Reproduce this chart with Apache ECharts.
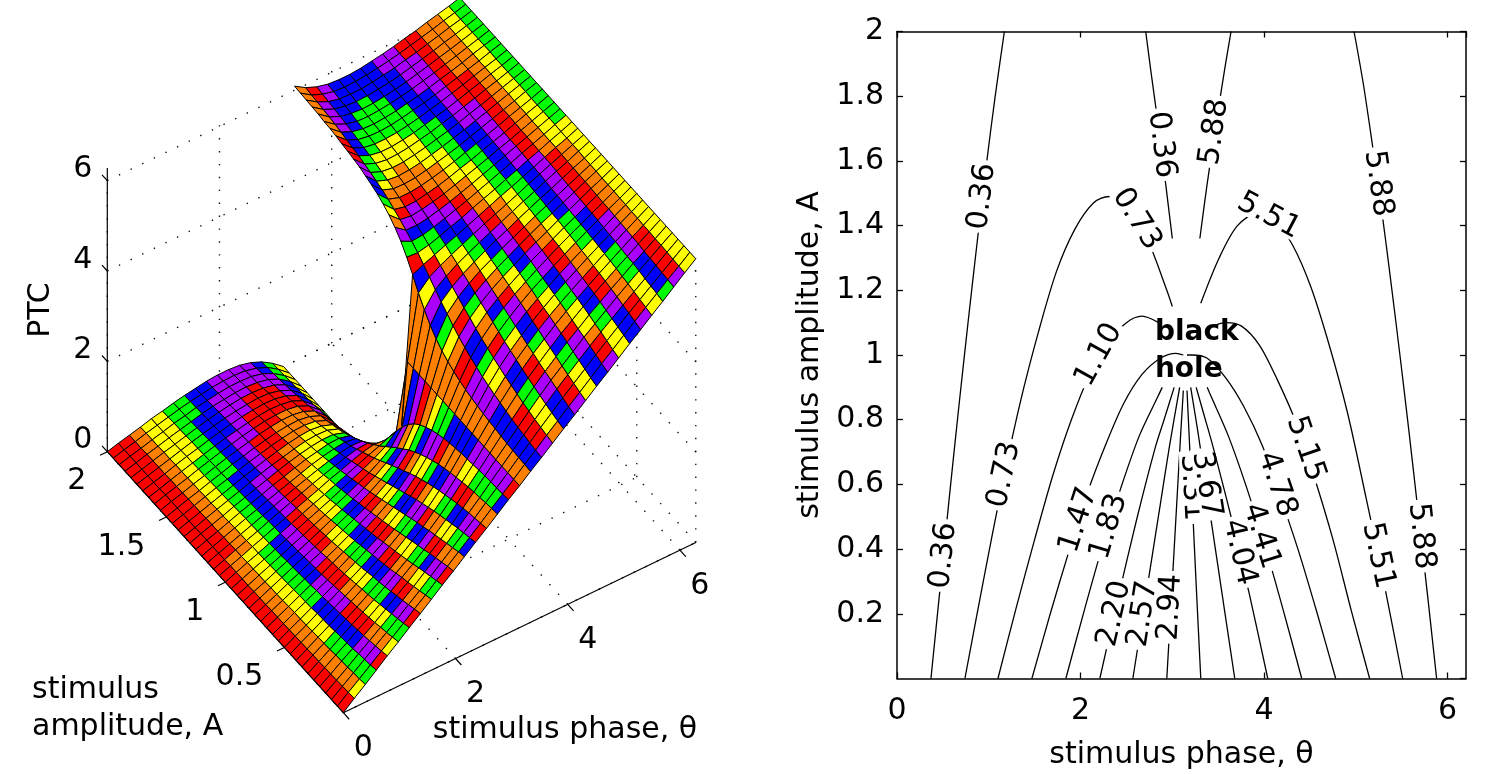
<!DOCTYPE html>
<html>
<head>
<meta charset="utf-8">
<title>PTC surface and contours</title>
<script src="https://cdn.jsdelivr.net/npm/echarts@6.0.0/dist/echarts.min.js"></script>
<style>
html, body { margin: 0; padding: 0; background: #fff; }
#main { width: 1496px; height: 774px; }
</style>
</head>
<body>
<div id="main"></div>
<script>
// ---- surface samples: stimulus phase (columns) x stimulus amplitude (rows) ----
var phaseGrid = [0, 0.196, 0.393, 0.589, 0.785, 0.982, 1.178, 1.374, 1.571, 1.767, 1.963, 2.160, 2.356,
  2.553, 2.749, 2.945, 3.142, 3.338, 3.534, 3.731, 3.927, 4.123, 4.320, 4.516, 4.712, 4.909, 5.105,
  5.301, 5.498, 5.694, 5.890, 6.087, 6.283];
var ampGrid = [0, 0.05, 0.1, 0.15, 0.2, 0.25, 0.3, 0.35, 0.4, 0.45, 0.5, 0.55, 0.6, 0.65, 0.7, 0.75,
  0.8, 0.85, 0.9, 0.95, 1.0, 1.05, 1.1, 1.15, 1.2, 1.25, 1.3, 1.35, 1.4, 1.45, 1.5, 1.55, 1.6, 1.65,
  1.7, 1.75, 1.8, 1.85, 1.9, 1.95, 2.0];
// new phase (PTC) read for every row of ampGrid
var ptcRows = [
  [0,0.20,0.39,0.59,0.79,0.98,1.18,1.37,1.57,1.77,1.96,2.16,2.36,2.55,2.75,2.95,3.14,3.34,3.53,3.73,3.93,4.12,4.32,4.52,4.71,4.91,5.11,5.30,5.50,5.69,5.89,6.09,6.28],
  [0,0.19,0.37,0.56,0.75,0.94,1.13,1.33,1.52,1.72,1.92,2.12,2.32,2.52,2.73,2.93,3.14,3.35,3.55,3.76,3.96,4.16,4.36,4.56,4.76,4.95,5.15,5.34,5.53,5.72,5.91,6.09,6.28],
  [0,0.18,0.36,0.54,0.72,0.90,1.09,1.28,1.47,1.67,1.87,2.07,2.28,2.49,2.71,2.92,3.14,3.36,3.57,3.79,4.00,4.21,4.41,4.61,4.81,5.00,5.19,5.38,5.56,5.74,5.92,6.10,6.28],
  [0,0.17,0.34,0.52,0.69,0.87,1.05,1.23,1.42,1.62,1.82,2.02,2.24,2.46,2.68,2.91,3.14,3.37,3.60,3.82,4.04,4.26,4.46,4.66,4.86,5.05,5.23,5.41,5.59,5.76,5.94,6.11,6.28],
  [0,0.16,0.33,0.49,0.66,0.83,1.01,1.19,1.37,1.57,1.77,1.97,2.19,2.42,2.66,2.90,3.14,3.38,3.62,3.86,4.09,4.31,4.51,4.71,4.91,5.09,5.27,5.45,5.62,5.79,5.95,6.12,6.28],
  [0,0.16,0.32,0.47,0.64,0.80,0.97,1.14,1.33,1.51,1.71,1.92,2.14,2.38,2.63,2.88,3.14,3.40,3.65,3.90,4.14,4.36,4.57,4.77,4.95,5.14,5.31,5.48,5.64,5.81,5.96,6.12,6.28],
  [0,0.15,0.30,0.46,0.61,0.77,0.93,1.10,1.28,1.46,1.66,1.87,2.09,2.33,2.59,2.86,3.14,3.42,3.69,3.95,4.19,4.41,4.62,4.82,5.00,5.18,5.35,5.51,5.67,5.82,5.98,6.13,6.28],
  [0,0.15,0.29,0.44,0.59,0.74,0.90,1.06,1.23,1.41,1.61,1.81,2.04,2.28,2.55,2.84,3.14,3.44,3.73,4.00,4.24,4.47,4.67,4.87,5.05,5.22,5.38,5.54,5.69,5.84,5.99,6.13,6.28],
  [0,0.14,0.28,0.42,0.57,0.72,0.87,1.03,1.19,1.36,1.55,1.76,1.98,2.23,2.51,2.82,3.14,3.46,3.77,4.05,4.30,4.52,4.73,4.92,5.09,5.25,5.41,5.56,5.71,5.86,6.00,6.14,6.28],
  [0,0.14,0.27,0.41,0.55,0.69,0.84,0.99,1.15,1.32,1.50,1.70,1.92,2.17,2.46,2.79,3.14,3.49,3.82,4.11,4.36,4.58,4.78,4.96,5.13,5.29,5.44,5.59,5.73,5.87,6.01,6.14,6.28],
  [0,0.13,0.26,0.40,0.53,0.67,0.81,0.95,1.11,1.27,1.44,1.64,1.86,2.11,2.41,2.76,3.14,3.52,3.87,4.17,4.42,4.64,4.84,5.01,5.17,5.33,5.47,5.61,5.75,5.88,6.02,6.15,6.28],
  [0,0.13,0.25,0.38,0.51,0.64,0.78,0.92,1.07,1.22,1.39,1.58,1.79,2.04,2.34,2.72,3.14,3.56,3.94,4.24,4.49,4.70,4.89,5.06,5.21,5.36,5.50,5.64,5.77,5.90,6.03,6.15,6.28],
  [0,0.12,0.25,0.37,0.50,0.62,0.75,0.89,1.03,1.18,1.34,1.52,1.72,1.97,2.27,2.67,3.14,3.61,4.01,4.31,4.56,4.76,4.94,5.10,5.25,5.39,5.53,5.66,5.78,5.91,6.03,6.16,6.28],
  [0,0.12,0.24,0.36,0.48,0.60,0.73,0.86,0.99,1.14,1.29,1.46,1.65,1.89,2.19,2.61,3.14,3.67,4.09,4.39,4.63,4.82,4.99,5.14,5.29,5.42,5.55,5.68,5.80,5.92,6.04,6.16,6.28],
  [0,0.12,0.23,0.35,0.47,0.58,0.71,0.83,0.96,1.10,1.24,1.40,1.58,1.80,2.10,2.53,3.14,3.75,4.18,4.48,4.70,4.88,5.04,5.18,5.32,5.45,5.57,5.70,5.81,5.93,6.05,6.16,6.28],
  [0,0.11,0.22,0.34,0.45,0.57,0.68,0.80,0.93,1.06,1.19,1.34,1.51,1.72,2.00,2.44,3.14,3.84,4.28,4.56,4.77,4.94,5.09,5.22,5.35,5.48,5.60,5.71,5.83,5.94,6.06,6.17,6.28],
  [0,0.11,0.22,0.33,0.44,0.55,0.66,0.78,0.90,1.02,1.15,1.28,1.44,1.63,1.88,2.32,3.14,3.96,4.40,4.65,4.84,5.00,5.13,5.26,5.38,5.50,5.62,5.73,5.84,5.95,6.06,6.17,6.28],
  [0,0.11,0.21,0.32,0.43,0.53,0.64,0.75,0.87,0.98,1.10,1.23,1.37,1.54,1.76,2.16,3.14,4.12,4.52,4.74,4.91,5.05,5.18,5.30,5.41,5.53,5.64,5.75,5.85,5.96,6.07,6.17,6.28],
  [0,0.10,0.21,0.31,0.41,0.52,0.62,0.73,0.84,0.95,1.06,1.18,1.30,1.45,1.63,1.96,3.14,4.32,4.65,4.83,4.98,5.10,5.22,5.33,5.44,5.55,5.66,5.76,5.87,5.97,6.07,6.18,6.28],
  [0,0.10,0.20,0.30,0.40,0.50,0.61,0.71,0.81,0.91,1.02,1.13,1.24,1.36,1.50,1.73,3.14,4.55,4.78,4.92,5.04,5.15,5.26,5.37,5.47,5.57,5.67,5.78,5.88,5.98,6.08,6.18,6.28],
  [0,0.10,0.20,0.29,0.39,0.49,0.59,0.69,0.79,0.88,0.98,1.08,1.18,1.28,1.37,1.47,1.57,4.81,4.91,5.01,5.11,5.20,5.30,5.40,5.50,5.60,5.69,5.79,5.89,5.99,6.09,6.18,6.28],
  [0,0.10,0.19,0.29,0.38,0.48,0.57,0.67,0.76,0.85,0.95,1.03,1.12,1.20,1.25,1.23,0,5.05,5.03,5.08,5.16,5.25,5.33,5.43,5.52,5.61,5.71,5.80,5.90,5.99,6.09,6.18,6.28],
  [0,0.09,0.19,0.28,0.37,0.47,0.56,0.65,0.74,0.83,0.91,0.99,1.06,1.12,1.14,1.02,0,5.26,5.14,5.16,5.22,5.29,5.37,5.45,5.54,5.63,5.72,5.81,5.91,6.00,6.09,6.19,6.28],
  [0,0.09,0.18,0.27,0.36,0.45,0.54,0.63,0.72,0.80,0.88,0.95,1.01,1.05,1.04,0.86,0,5.42,5.24,5.23,5.27,5.33,5.40,5.48,5.56,5.65,5.74,5.83,5.92,6.01,6.10,6.19,6.28],
  [0,0.09,0.18,0.27,0.36,0.44,0.53,0.61,0.69,0.77,0.85,0.91,0.96,0.99,0.95,0.73,0,5.55,5.33,5.29,5.32,5.37,5.43,5.51,5.59,5.67,5.75,5.84,5.92,6.01,6.10,6.19,6.28],
  [0,0.09,0.17,0.26,0.35,0.43,0.51,0.60,0.67,0.75,0.82,0.87,0.92,0.93,0.87,0.63,0,5.65,5.41,5.35,5.36,5.41,5.46,5.53,5.61,5.68,5.77,5.85,5.93,6.02,6.11,6.19,6.28],
  [0,0.09,0.17,0.25,0.34,0.42,0.50,0.58,0.66,0.73,0.79,0.84,0.87,0.87,0.79,0.55,0,5.73,5.49,5.41,5.41,5.44,5.49,5.55,5.62,5.70,5.78,5.86,5.94,6.03,6.11,6.19,6.28],
  [0,0.08,0.17,0.25,0.33,0.41,0.49,0.57,0.64,0.70,0.76,0.81,0.83,0.82,0.73,0.49,0,5.79,5.55,5.46,5.45,5.47,5.52,5.58,5.64,5.71,5.79,5.87,5.95,6.03,6.11,6.20,6.28],
  [0,0.08,0.16,0.24,0.32,0.40,0.48,0.55,0.62,0.68,0.74,0.78,0.80,0.77,0.68,0.44,0,5.84,5.60,5.51,5.48,5.50,5.54,5.60,5.66,5.73,5.80,5.88,5.96,6.04,6.12,6.20,6.28],
  [0,0.08,0.16,0.24,0.32,0.39,0.47,0.54,0.60,0.66,0.71,0.75,0.76,0.73,0.63,0.39,0,5.89,5.65,5.55,5.52,5.53,5.57,5.62,5.68,5.74,5.81,5.89,5.96,6.04,6.12,6.20,6.28],
  [0,0.08,0.16,0.23,0.31,0.38,0.46,0.52,0.59,0.64,0.69,0.72,0.73,0.69,0.59,0.36,0,5.92,5.69,5.59,5.55,5.56,5.59,5.64,5.69,5.76,5.82,5.90,5.97,6.05,6.12,6.20,6.28],
  [0,0.08,0.15,0.23,0.30,0.38,0.45,0.51,0.57,0.63,0.67,0.70,0.70,0.66,0.55,0.33,0,5.95,5.73,5.62,5.58,5.58,5.61,5.65,5.71,5.77,5.83,5.90,5.98,6.05,6.13,6.20,6.28],
  [0,0.08,0.15,0.22,0.30,0.37,0.44,0.50,0.56,0.61,0.65,0.67,0.67,0.63,0.52,0.31,0,5.97,5.76,5.65,5.61,5.61,5.63,5.67,5.72,5.78,5.84,5.91,5.98,6.06,6.13,6.20,6.28],
  [0,0.07,0.15,0.22,0.29,0.36,0.43,0.49,0.54,0.59,0.63,0.65,0.64,0.60,0.49,0.28,0,6.00,5.79,5.68,5.64,5.63,5.65,5.69,5.74,5.79,5.85,5.92,5.99,6.06,6.13,6.21,6.28],
  [0,0.07,0.14,0.22,0.29,0.35,0.42,0.48,0.53,0.58,0.61,0.63,0.62,0.57,0.46,0.26,0,6.02,5.82,5.71,5.66,5.65,5.67,5.70,5.75,5.80,5.86,5.93,5.99,6.06,6.14,6.21,6.28],
  [0,0.07,0.14,0.21,0.28,0.35,0.41,0.47,0.52,0.56,0.59,0.61,0.60,0.54,0.43,0.25,0,6.03,5.85,5.74,5.68,5.67,5.69,5.72,5.76,5.81,5.87,5.93,6.00,6.07,6.14,6.21,6.28],
  [0,0.07,0.14,0.21,0.27,0.34,0.40,0.46,0.51,0.55,0.58,0.59,0.57,0.52,0.41,0.23,0,6.05,5.87,5.76,5.71,5.69,5.70,5.73,5.77,5.82,5.88,5.94,6.01,6.07,6.14,6.21,6.28],
  [0,0.07,0.14,0.20,0.27,0.33,0.39,0.45,0.50,0.53,0.56,0.57,0.55,0.50,0.39,0.22,0,6.06,5.89,5.78,5.73,5.71,5.72,5.75,5.78,5.83,5.89,5.95,6.01,6.08,6.14,6.21,6.28],
  [0,0.07,0.13,0.20,0.26,0.33,0.38,0.44,0.48,0.52,0.55,0.55,0.54,0.48,0.37,0.21,0,6.07,5.91,5.80,5.74,5.73,5.73,5.76,5.80,5.84,5.90,5.95,6.02,6.08,6.15,6.21,6.28],
  [0,0.07,0.13,0.20,0.26,0.32,0.38,0.43,0.47,0.51,0.53,0.54,0.52,0.46,0.36,0.20,0,6.08,5.92,5.82,5.76,5.74,5.75,5.77,5.81,5.85,5.90,5.96,6.02,6.08,6.15,6.21,6.28],
  [0,0.07,0.13,0.19,0.26,0.31,0.37,0.42,0.46,0.50,0.52,0.52,0.50,0.44,0.34,0.19,0,6.09,5.94,5.84,5.78,5.76,5.76,5.78,5.82,5.86,5.91,5.97,6.02,6.09,6.15,6.21,6.28]
];

// ---- 3D axes ticks ----
var phaseTicks = [0, 2, 4, 6];
var ampTicks = [0.5, 1, 1.5, 2];
var ptcTicks = [0, 2, 4, 6];

// ---- contour lines [phase, amplitude] ----
var lvl036a = [[0.37,0],[0.47,0.28],[0.57,0.56],[0.67,0.83],[0.77,1.09],[0.87,1.34],[0.97,1.58],[1.07,1.80],[1.17,2.0]];
var lvl036b = [[2.71,2.0],[2.77,1.87],[2.87,1.66],[2.97,1.43],[3.0,1.36]];
var lvl073 = [[0.74,0],[0.94,0.30],[1.14,0.59],[1.34,0.85],[1.54,1.07],[1.74,1.26],[1.94,1.39],[2.14,1.47],[2.31,1.49],[2.44,1.48],[2.54,1.45],[2.74,1.35],[2.94,1.20],[3.0,1.15]];
var lvl110 = [[1.10,0],[1.30,0.22],[1.50,0.43],[1.70,0.63],[1.90,0.80],[2.10,0.94],[2.30,1.04],[2.50,1.10],[2.67,1.12],[2.85,1.10]];
var lvl147 = [[1.47,0],[1.67,0.20],[1.87,0.39],[2.07,0.57],[2.27,0.72],[2.47,0.85],[2.67,0.94],[2.87,0.99],[3.04,1.005],[3.12,1.0]];
var lvl183 = [[1.84,0],[2.04,0.21],[2.24,0.41],[2.44,0.59],[2.64,0.75],[2.84,0.87],[2.89,0.90]];
var lvl220 = [[2.21,0],[2.41,0.25],[2.61,0.49],[2.81,0.71],[2.91,0.80],[3.02,0.90]];
var lvl257 = [[2.57,0],[2.67,0.18],[2.77,0.36],[2.87,0.54],[2.97,0.72],[3.08,0.90]];
var lvl294 = [[2.94,0],[2.99,0.25],[3.04,0.50],[3.09,0.75],[3.12,0.89]];
var lvl331 = [[3.31,0],[3.26,0.29],[3.21,0.59],[3.17,0.83],[3.16,0.89]];
var lvl367 = [[3.68,0],[3.58,0.19],[3.48,0.38],[3.38,0.57],[3.28,0.76],[3.20,0.90]];
var lvl404 = [[4.04,0],[3.84,0.26],[3.64,0.50],[3.44,0.72],[3.34,0.82],[3.26,0.90]];
var lvl441 = [[4.41,0],[4.21,0.21],[4.01,0.41],[3.81,0.59],[3.61,0.75],[3.41,0.88],[3.38,0.90]];
var lvl478 = [[4.78,0],[4.58,0.20],[4.38,0.39],[4.18,0.56],[3.98,0.72],[3.78,0.84],[3.58,0.93],[3.38,0.99],[3.21,1.0],[3.16,1.0]];
var lvl515 = [[5.15,0],[4.95,0.21],[4.75,0.43],[4.55,0.62],[4.35,0.79],[4.15,0.92],[3.95,1.03],[3.75,1.09],[3.58,1.10],[3.45,1.09]];
var lvl551 = [[5.51,0],[5.31,0.29],[5.11,0.56],[4.91,0.82],[4.71,1.03],[4.51,1.21],[4.31,1.34],[4.11,1.42],[3.94,1.44],[3.71,1.40],[3.51,1.30],[3.31,1.16]];
var lvl588a = [[5.88,0],[5.78,0.26],[5.68,0.51],[5.58,0.76],[5.48,1.0],[5.38,1.23],[5.28,1.45],[5.18,1.65],[5.08,1.84],[4.98,2.0]];
var lvl588b = [[3.64,2.0],[3.58,1.90],[3.48,1.72],[3.38,1.53],[3.30,1.36]];
var contourPaths = [lvl036a, lvl036b, lvl073, lvl110, lvl147, lvl183, lvl220, lvl257, lvl294,
  lvl331, lvl367, lvl404, lvl441, lvl478, lvl515, lvl551, lvl588a, lvl588b];

// ---- contour labels ----
var labelText = ['0.36','0.36','0.73','0.73','1.10','1.47','1.83','2.20','2.57','2.94','3.31',
  '3.67','4.04','4.41','4.78','5.15','5.51','5.51','5.88','5.88','5.88','0.36'];
var labelPos = [[0.93,1.49],[0.51,0.38],[1.17,0.63],[2.61,1.42],[2.20,1.00],[1.98,0.49],[2.31,0.47],
  [2.37,0.20],[2.68,0.20],[2.98,0.22],[3.21,0.59],[3.37,0.60],[3.73,0.39],[3.97,0.44],[4.14,0.60],
  [4.45,0.71],[5.24,0.38],[4.05,1.43],[5.71,0.44],[5.24,1.53],[3.46,1.69],[2.88,1.65]];
var labelAngle = [83, 84, 78, -58, 61, 72, 73, 77, 81, 87, -87, -81, -77, -73, -71, -71, -78, -28, -84, -82, 82, -83];
var holeText = ['black', 'hole'];
var holePos = [[2.81, 1.07], [2.81, 0.955]];

// ---- drawing helpers ----
var FONT = 'DejaVu Sans';
var TAU = 6.2832;
var PRISM = ['#ff0000', '#ff8000', '#ffff00', '#00ff00', '#0000ff', '#aa00ff'];
// oblique view of the box: screen offset per unit of phase, amplitude, PTC
var ORIGIN = [343.3, 712.7], EX = [56.1, -27.1], EY = [-118.0, -130.5], EZ = [0, -45.17];

function proj(t, a, z) {
  return [ORIGIN[0] + t * EX[0] + a * EY[0] + z * EZ[0],
          ORIGIN[1] + t * EX[1] + a * EY[1] + z * EZ[1]];
}
function depth(t, a, z) { return -25.3 * t - 121.8 * a + 48.4 * z; }
function faceColor(z) {
  var k = Math.floor(z / TAU * 64);
  if (k > 63) k = 63;
  if (k < 0) k = 0;
  return PRISM[k % 6];
}

// faces, far ones first
var faces = [];
for (var j = 0; j < ampGrid.length - 1; j++) {
  for (var i = 0; i < phaseGrid.length - 1; i++) {
    var zs = [ptcRows[j][i], ptcRows[j][i + 1], ptcRows[j + 1][i + 1], ptcRows[j + 1][i]];
    var lo = Math.min.apply(null, zs), hi = Math.max.apply(null, zs);
    if (hi - lo > 4) continue; // wrap-around from 2pi to 0, no face there
    var tc = (phaseGrid[i] + phaseGrid[i + 1]) / 2, ac = (ampGrid[j] + ampGrid[j + 1]) / 2;
    faces.push([i, j, depth(tc, ac, (zs[0] + zs[1] + zs[2] + zs[3]) / 4)]);
  }
}
faces.sort(function (a, b) { return a[2] - b[2]; });

// dotted grid on the back walls and floor
var gridSegs = [];
ptcTicks.forEach(function (z) {
  gridSegs.push([0, 2, z, TAU, 2, z]);
  gridSegs.push([TAU, 0, z, TAU, 2, z]);
});
phaseTicks.forEach(function (t) {
  gridSegs.push([t, 2, 0, t, 2, TAU]);
  gridSegs.push([t, 0, 0, t, 2, 0]);
});
[0].concat(ampTicks).forEach(function (a) {
  gridSegs.push([TAU, a, 0, TAU, a, TAU]);
  gridSegs.push([0, a, 0, TAU, a, 0]);
});

// solid axes and ticks
var axisSegs = [[0, 2, 0, 0, 2, TAU], [0, 0, 0, 0, 2, 0], [0, 0, 0, TAU, 0, 0]];
ptcTicks.forEach(function (z) { axisSegs.push([0, 2, z, 0, 2.045, z]); });
ampTicks.forEach(function (a) { axisSegs.push([0, a, 0, -0.13, a, 0]); });
phaseTicks.forEach(function (t) { axisSegs.push([t, 0, 0, t, -0.05, 0]); });

var tickLabels = [];
ptcTicks.forEach(function (z) { tickLabels.push({t: 0, a: 2, z: z, dx: -15, dy: -11, align: 'right', text: String(z)}); });
ampTicks.forEach(function (a) { tickLabels.push({t: 0, a: a, z: 0, dx: -21, dy: 30, align: 'right', text: String(a)}); });
phaseTicks.forEach(function (t) { tickLabels.push({t: t, a: 0, z: 0, dx: 20, dy: 36, align: 'center', text: String(t)}); });

function segSeries(segs, style) {
  return {
    type: 'custom', xAxisIndex: 0, yAxisIndex: 0, silent: true, clip: false,
    data: segs,
    renderItem: function (params, api) {
      var p1 = api.coord(proj(api.value(0), api.value(1), api.value(2)));
      var p2 = api.coord(proj(api.value(3), api.value(4), api.value(5)));
      return {type: 'line', shape: {x1: p1[0], y1: p1[1], x2: p2[0], y2: p2[1]},
              style: Object.assign({}, style)};
    }
  };
}

function textStyle(text, size, weight, align, bg) {
  var s = {text: text, fill: '#000', fontSize: size, fontWeight: weight, fontFamily: FONT,
           align: align, textAlign: align, verticalAlign: 'middle', textVerticalAlign: 'middle'};
  if (bg) { s.backgroundColor = '#fff'; s.padding = [0, 3]; s.lineHeight = 22; }
  return s;
}

var series = [];
series.push(segSeries(gridSegs, {stroke: '#111', lineWidth: 1.4, lineDash: [1.4, 11.5]}));
series.push({
  type: 'custom', xAxisIndex: 0, yAxisIndex: 0, silent: true, clip: false, progressive: 0,
  data: faces.map(function (f) { return [f[0], f[1]]; }),
  renderItem: function (params, api) {
    var i = api.value(0), j = api.value(1);
    var pts = [[i, j], [i + 1, j], [i + 1, j + 1], [i, j + 1]].map(function (c) {
      return api.coord(proj(phaseGrid[c[0]], ampGrid[c[1]], ptcRows[c[1]][c[0]]));
    });
    return {type: 'polygon', shape: {points: pts},
            style: {fill: faceColor(ptcRows[j][i]), stroke: '#000', lineWidth: 1}};
  }
});
series.push(segSeries(axisSegs, {stroke: '#000', lineWidth: 1.2}));
series.push({
  type: 'custom', xAxisIndex: 0, yAxisIndex: 0, silent: true, clip: false,
  data: tickLabels.map(function (L) { return [L.t, L.a, L.z]; }),
  renderItem: function (params, api) {
    var L = tickLabels[params.dataIndex];
    var p = api.coord(proj(L.t, L.a, L.z));
    return {type: 'text', x: p[0] + L.dx, y: p[1] + L.dy, style: textStyle(L.text, 30, 'normal', L.align, false)};
  }
});

contourPaths.forEach(function (path) {
  series.push({
    type: 'line', xAxisIndex: 1, yAxisIndex: 1, data: path, showSymbol: false, symbol: 'none',
    smooth: 0.3, silent: true, z: 2,
    lineStyle: {color: '#000', width: 1.3}
  });
});
// inline contour labels, rotated along their line
series.push({
  type: 'custom', xAxisIndex: 1, yAxisIndex: 1, silent: true, z: 3, clip: false,
  data: labelPos,
  renderItem: function (params, api) {
    var k = params.dataIndex;
    var p = api.coord([api.value(0), api.value(1)]);
    return {type: 'text', x: p[0], y: p[1], rotation: labelAngle[k] * Math.PI / 180,
            style: textStyle(labelText[k], 30, 'normal', 'center', true)};
  }
});
series.push({
  type: 'custom', xAxisIndex: 1, yAxisIndex: 1, silent: true, z: 4, clip: false,
  data: holePos,
  renderItem: function (params, api) {
    var p = api.coord([api.value(0), api.value(1)]);
    return {type: 'text', x: p[0], y: p[1], style: textStyle(holeText[params.dataIndex], 28, 'bold', 'left', false)};
  }
});

var axisText = {color: '#000', fontSize: 30, fontFamily: FONT};
var frameLine = {show: true, onZero: false, lineStyle: {color: '#000', width: 1.5}};
var inTick = {show: true, inside: true, length: 6, lineStyle: {color: '#000', width: 1.3}};

var option = {
  animation: false,
  backgroundColor: '#fff',
  grid: [
    {left: 0, top: 0, width: 760, height: 774, outerBoundsMode: 'none'},
    {left: 897, top: 31.5, width: 569, height: 647, outerBoundsMode: 'none'}
  ],
  xAxis: [
    {gridIndex: 0, type: 'value', min: 0, max: 760, show: false},
    {gridIndex: 1, type: 'value', min: 0, max: 6.2, interval: 2,
     axisLine: frameLine, axisTick: inTick, splitLine: {show: false},
     axisLabel: Object.assign({margin: 18, showMaxLabel: false}, axisText),
     name: 'stimulus phase, θ', nameLocation: 'middle', nameGap: 62, nameTextStyle: axisText},
    {gridIndex: 1, type: 'value', position: 'top', min: 0, max: 6.2, interval: 2,
     axisLine: frameLine, axisTick: inTick, axisLabel: {show: false}, splitLine: {show: false}}
  ],
  yAxis: [
    {gridIndex: 0, type: 'value', min: 0, max: 774, inverse: true, show: false},
    {gridIndex: 1, type: 'value', min: 0, max: 2, interval: 0.2,
     axisLine: frameLine, axisTick: inTick, splitLine: {show: false},
     axisLabel: Object.assign({margin: 13, showMinLabel: false}, axisText),
     name: 'stimulus amplitude, A', nameLocation: 'middle', nameRotate: 90, nameGap: 72,
     nameTextStyle: axisText},
    {gridIndex: 1, type: 'value', position: 'right', min: 0, max: 2, interval: 0.2,
     axisLine: frameLine, axisTick: inTick, axisLabel: {show: false}, splitLine: {show: false}}
  ],
  graphic: [
    {type: 'text', x: 41.5, y: 310, rotation: Math.PI / 2, style: textStyle('PTC', 30, 'normal', 'center', false)},
    {type: 'text', x: 565, y: 730, style: textStyle('stimulus phase, θ', 30, 'normal', 'center', false)},
    {type: 'text', x: 32, y: 690, style: textStyle('stimulus', 30, 'normal', 'left', false)},
    {type: 'text', x: 32, y: 727, style: textStyle('amplitude, A', 30, 'normal', 'left', false)}
  ],
  series: series
};

var chart = echarts.init(document.getElementById('main'), null, {renderer: 'canvas'});
chart.setOption(option);
</script>
</body>
</html>
